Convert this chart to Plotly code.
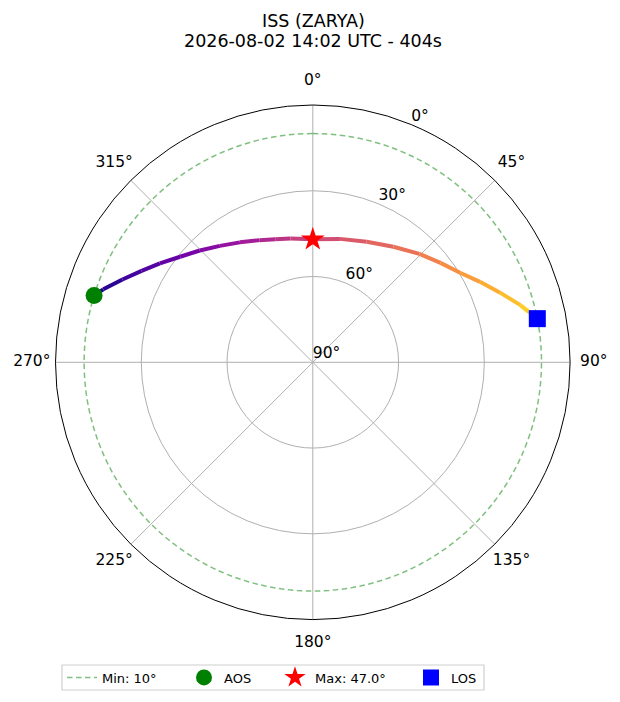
import numpy as np
import plotly.graph_objects as go
from plotly.colors import sample_colorscale

# ---- data ----
title_line1 = "ISS (ZARYA)"
title_line2 = "2026-08-02 14:02 UTC - 404s"

path_az = [287.0, 289.2, 293.5, 298.1, 302.9, 308.5, 314.7, 321.4, 328.7, 336.5, 343.0, 349.7,
           0.0, 12.4, 24.1, 34.9, 44.5, 52.1, 58.7, 64.3, 69.6, 74.5, 79.0]
path_el = [10.0, 12.4, 17.4, 22.1, 26.3, 30.7, 34.4, 37.9, 40.9, 43.4, 45.0, 46.0,
           47.0, 45.8, 43.8, 40.7, 36.8, 33.4, 29.7, 25.1, 20.1, 14.8, 10.0]

aos_az, aos_el = 287.0, 10.0
max_az, max_el = 0.0, 47.0
los_az, los_el = 79.0, 10.0
min_el = 10

ang_ticks = [0, 45, 90, 135, 180, 225, 270, 315]
ang_labels = ["0°", "45°", "90°", "135°", "180°", "225°", "270°", "315°"]
el_ticks = [90, 60, 30, 0]
el_labels = ["90°", "60°", "30°", "0°"]

FONT = "DejaVu Sans"
W, H = 612, 694          # page body has an 8px margin inside the 620x702 window
OFF = 8
CX, CY, R = 312.8, 362.3, 257.3   # horizon circle in window pixels
R_LAB = 281.0                      # radius at which azimuth labels are centred


def px_x(x):
    return (x - OFF) / W


def px_y(y):
    return 1 - (y - OFF) / H


def rad(el):
    return 90 - np.asarray(el, dtype=float)


fig = go.Figure()

# min elevation circle
circ_theta = np.arange(0, 361, 2)
fig.add_trace(go.Scatterpolar(
    r=np.full(circ_theta.shape, 90 - min_el), theta=circ_theta, mode="lines",
    line=dict(color="rgba(0,128,0,0.5)", width=1.5, dash="5.5px,3.5px"),
    name=f"Min: {min_el}°", legend="legend", hoverinfo="skip"))

# gradient path
n = len(path_az)
fr = [0.92 * (i + 0.5) / (n - 1) for i in range(n - 1)]
cols = sample_colorscale("Plasma", fr)
r_path = rad(path_el)
for i in range(n - 1):
    fig.add_trace(go.Scatterpolar(
        r=[r_path[i], r_path[i + 1]], theta=[path_az[i], path_az[i + 1]],
        mode="lines", line=dict(color=cols[i], width=4),
        showlegend=False, hoverinfo="skip"))

fig.add_trace(go.Scatterpolar(
    r=[90 - aos_el], theta=[aos_az], mode="markers",
    marker=dict(symbol="circle", size=17, color="#008000"), name="AOS", legend="legend2"))
fig.add_trace(go.Scatterpolar(
    r=[90 - max_el], theta=[max_az], mode="markers",
    marker=dict(symbol="star", size=18, color="#ff0000"), name=f"Max: {max_el:.1f}°",
    legend="legend3"))
fig.add_trace(go.Scatterpolar(
    r=[90 - los_el], theta=[los_az], mode="markers",
    marker=dict(symbol="square", size=17, color="#0000ff"), name="LOS", legend="legend4"))

# radial (elevation) labels
fig.add_trace(go.Scatterpolar(
    r=rad(el_ticks), theta=[22.5] * len(el_ticks), mode="text",
    text=el_labels, textposition="top right",
    textfont=dict(family=FONT, size=15.5, color="black"),
    showlegend=False, hoverinfo="skip", cliponaxis=False))

# azimuth labels on an invisible, concentric, slightly larger polar frame
fig.add_trace(go.Scatterpolar(
    r=[1] * len(ang_ticks), theta=ang_ticks, mode="text", subplot="polar2",
    text=ang_labels, textposition="middle center",
    textfont=dict(family=FONT, size=15.5, color="black"),
    showlegend=False, hoverinfo="skip", cliponaxis=False))

legend_common = dict(orientation="h", xanchor="left", y=px_y(677.5), yanchor="middle",
                     bgcolor="rgba(0,0,0,0)", borderwidth=0,
                     font=dict(family=FONT, size=13, color="black"))
sym_centers = [82, 204, 295, 431]

hidden_axis = dict(visible=False)
fig.update_layout(
    width=W, height=H,
    margin=dict(l=0, r=0, t=0, b=0),
    paper_bgcolor="white",
    font=dict(family=FONT, color="black"),
    polar=dict(
        domain=dict(x=[px_x(CX - R), px_x(CX + R)], y=[px_y(CY + R), px_y(CY - R)]),
        bgcolor="white",
        angularaxis=dict(rotation=90, direction="clockwise", tickmode="array",
                         tickvals=ang_ticks, ticktext=ang_labels, showticklabels=False,
                         showline=True, linecolor="black", linewidth=1,
                         showgrid=True, gridcolor="#b0b0b0", gridwidth=1, ticks=""),
        radialaxis=dict(range=[0, 90], tickmode="array", tickvals=[30, 60],
                        showticklabels=False, showline=False, ticks="",
                        showgrid=True, gridcolor="#b0b0b0", gridwidth=1, angle=67.5),
    ),
    polar2=dict(
        domain=dict(x=[px_x(CX - R_LAB), px_x(CX + R_LAB)],
                    y=[px_y(CY + R_LAB), px_y(CY - R_LAB)]),
        bgcolor="rgba(0,0,0,0)",
        angularaxis=dict(rotation=90, direction="clockwise", showline=False,
                         showgrid=False, showticklabels=False, ticks=""),
        radialaxis=dict(range=[0, 1], visible=False),
    ),
    legend=dict(x=px_x(sym_centers[0] - 20), **legend_common),
    legend2=dict(x=px_x(sym_centers[1] - 20), **legend_common),
    legend3=dict(x=px_x(sym_centers[2] - 20), **legend_common),
    legend4=dict(x=px_x(sym_centers[3] - 20), **legend_common),
    shapes=[dict(type="rect", xref="paper", yref="paper",
                 x0=px_x(62), x1=px_x(484), y0=px_y(690), y1=px_y(665),
                 line=dict(color="#d0d0d0", width=1.2), fillcolor="white", layer="below")],
    annotations=[
        dict(text=title_line1, x=px_x(313.3), y=px_y(20.5), xref="paper", yref="paper",
             xanchor="center", yanchor="middle", showarrow=False,
             font=dict(family=FONT, size=17.5, color="black")),
        dict(text=title_line2, x=px_x(313.3), y=px_y(41), xref="paper", yref="paper",
             xanchor="center", yanchor="middle", showarrow=False,
             font=dict(family=FONT, size=17.5, color="black")),
    ],
)

fig.write_html("out.html")
